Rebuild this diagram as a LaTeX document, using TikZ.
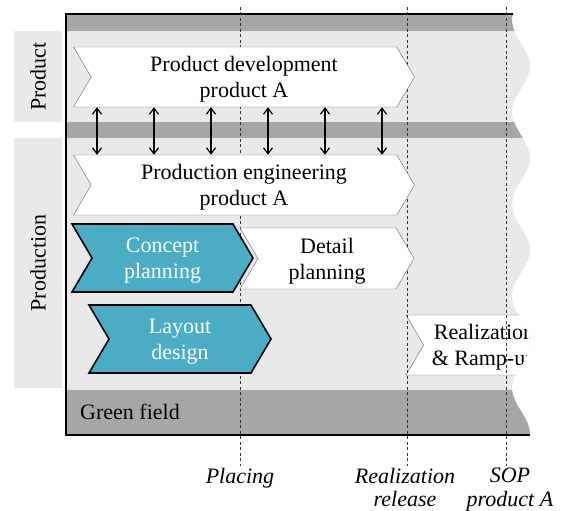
\documentclass[tikz,border=0pt]{standalone}
\usepackage{fontspec}
\setmainfont{Liberation Serif}
\usetikzlibrary{positioning,arrows.meta,shapes.symbols}

\definecolor{bandgray}{RGB}{166,166,166}
\definecolor{lanegray}{RGB}{233,233,233}
\definecolor{phaseblue}{RGB}{75,172,198}

\begin{document}
\begin{tikzpicture}[x=1pt, y=-1pt,
    % Styles
    phase/.style={
        signal, signal from=west, signal to=east, signal pointer angle=119,
        draw=black!60, fill=#1, inner sep=0pt, text depth=-1pt,
        font=\fontsize{22}{26}\selectfont, align=center,
    },
    phase/.default={white},
    ownphase/.style={
        phase=phaseblue, draw=black, line width=1.6pt, text=white,
    },
    lane/.style={
        fill=lanegray, rotate=90, inner sep=0pt, minimum height=48,
        font=\fontsize{22}{26}\selectfont,
    },
    frame/.style={draw=black, line width=2.4pt},
    milestone/.style={draw=black!80, dash pattern=on 3pt off 2.5pt, line width=0.6pt},
    mslabel/.style={font=\fontsize{22}{23.5}\selectfont\itshape, align=center,
        anchor=north, inner sep=2pt},
    biarr/.style={{Straight Barb[length=6pt,width=9pt]}-{Straight Barb[length=6pt,width=9pt]},
        line width=1.2pt},
]
\useasboundingbox (0,0) rectangle (566,511);

% ================================================================
% LANES (wavy cut on the right)
% ================================================================
\begin{scope}
    \clip (66,0) -- (513,0)
        -- plot[domain=14:437, samples=90] ({521-9*cos(3.913*(\x-20))}, \x)
        -- (66,440) -- cycle;
    \fill[lanegray] (66,14) rectangle (545,435);
    \fill[bandgray] (66,14) rectangle (545,31);
    \fill[bandgray] (66,122) rectangle (545,138);
    \fill[bandgray] (66,390) rectangle (545,435);

    % Milestones
    \coordinate (placingtop) at (240,7);
    \coordinate (releasetop) at (407,7);
    \coordinate (soptop) at (506,7);

    \node[phase, minimum width=156, minimum height=60] (realization) at (484,345)
        {Realization\\\& Ramp-up};
\end{scope}

\node[lane, minimum width=91] (productlane) at (38,76.5) {Product};
\node[lane, minimum width=250] (productionlane) at (38,263) {Production};

\node[anchor=west, inner sep=0pt, font=\fontsize{22}{26}\selectfont]
    (greenfield) at (80,412) {Green field};

\node[mslabel] (placing) at (240,466) {Placing};
\node[mslabel] (release) at (405,466) {Realization\\release};
\node[mslabel] (sop) at (510,466) {SOP\\product A};

\draw[milestone] (placingtop) -- (placing.north);
\draw[milestone] (releasetop) -- (releasetop |- release.north);
\draw[milestone] (soptop) -- (soptop |- sop.north);

% Frame
\draw[frame] (513,14) -- (66,14) -- (66,435) -- (530,435);

% ================================================================
% PHASES
% ================================================================
\node[phase, minimum width=341, minimum height=60] (proddev) at (244,77)
    {Product development\\product A};
\node[phase, minimum width=341, minimum height=60] (prodeng) at (244,185)
    {Production engineering\\product A};

\node[phase, minimum width=174, minimum height=61] (detail) at (327,258.5)
    {Detail\\planning};
\node[ownphase, minimum width=181, minimum height=68] (concept) at (162.5,258)
    {Concept\\planning};
\node[ownphase, minimum width=182, minimum height=68] (layout) at (180,339)
    {Layout\\design};

% ================================================================
% ARROWS
% ================================================================
\foreach \x in {97,154,...,382}
    \draw[biarr] (\x,0 |- proddev.south) -- (\x,0 |- prodeng.north);

\end{tikzpicture}
\end{document}
